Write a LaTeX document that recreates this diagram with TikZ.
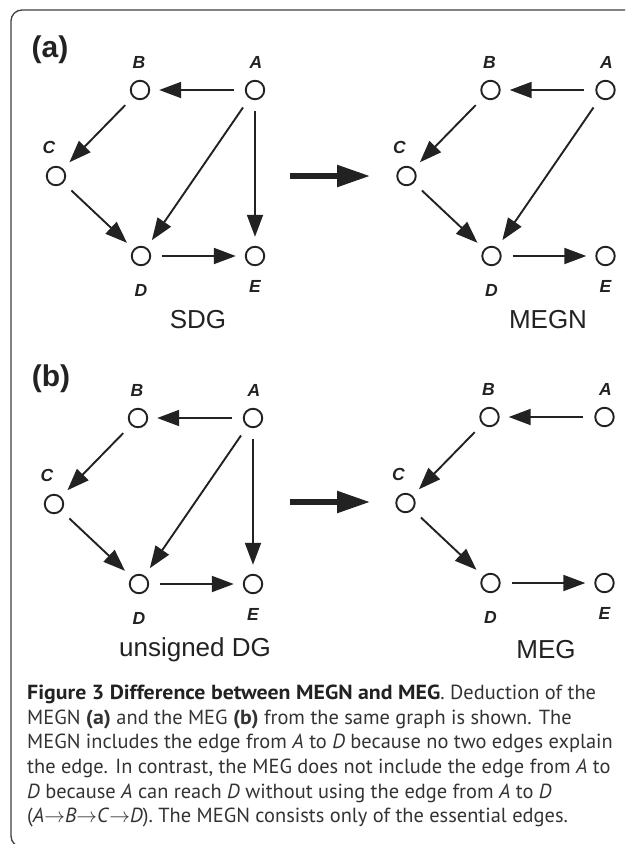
\documentclass[tikz,border=0pt]{standalone}
\usepackage{fontspec}
\setmainfont{PT Sans}[BoldFeatures={FakeStretch=1.07}]
\newfontfamily\arialf{Liberation Sans}
\usetikzlibrary{arrows.meta}
\definecolor{ink}{HTML}{222222}
\definecolor{framec}{HTML}{404040}
\definecolor{capc}{HTML}{333333}
\newcommand\mkgraph[1]{%
  \node[nd] (#1A) at (255,90) {};
  \node[nd] (#1B) at (140,90) {};
  \node[nd] (#1C) at (56,176) {};
  \node[nd] (#1D) at (141,256) {};
  \node[nd] (#1E) at (255,256) {};
  \node[lbl] (#1lA) at (256,62) {A};
  \node[lbl] (#1lB) at (139,62) {B};
  \node[lbl] (#1lC) at (49,147) {C};
  \node[lbl] (#1lD) at (141,290) {D};
  \node[lbl] (#1lE) at (255,286) {E};
  \draw[edge] (#1A) -- (#1B);
  \draw[edge] (#1B) -- (#1C);
  \draw[edge] (#1C) -- (#1D);
  \draw[edge] (#1D) -- (#1E);
}
\begin{document}
\begin{tikzpicture}[x=1pt,y=-1pt,
  nd/.style={circle,draw=ink,line width=1.9pt,minimum size=18.5pt,inner sep=0pt},
  lbl/.style={font=\arialf\bfseries\itshape\fontsize{17.5}{17.5}\selectfont,text=ink,inner sep=0pt},
  edge/.style={draw=ink,line width=1.9pt,-{Triangle[length=22pt,width=16pt]},shorten >=9pt,shorten <=11pt},
  bigarrow/.style={draw=ink,line width=5.5pt,-{Triangle[length=33pt,width=21pt]}},
  panel/.style={font=\arialf\bfseries\fontsize{30}{30}\selectfont,text=ink,inner sep=0pt},
  gname/.style={font=\arialf\fontsize{26}{26}\selectfont,text=ink,inner sep=0pt}]
\clip (0,0) rectangle (625,844);
\fill[white] (0,0) rectangle (625,844);
\draw[framec,line width=1.3pt,rounded corners=11pt] (11,10) rectangle (680,847);

% panel (a)
\node[panel] (pa) at (50,50) {(a)};
\begin{scope}
  \mkgraph{p}
  \draw[edge] (pA) -- (pD);
  \draw[edge] (pA) -- (pE);
\end{scope}
\begin{scope}[shift={(350.5,0)}]
  \mkgraph{q}
  \draw[edge] (qA) -- (qD);
\end{scope}
\node[gname] (sdg) at (198,320) {SDG};
\node[gname] (megn) at (548,320) {MEGN};
\coordinate (a1) at (290,176);
\coordinate (a2) at (370,176);
\draw[bigarrow] (a1) -- (a2);

% panel (b)
\node[panel] (pb) at (51,379) {(b)};
\begin{scope}[shift={(-2,328)}]
  \mkgraph{r}
  \draw[edge] (rA) -- (rD);
  \draw[edge] (rA) -- (rE);
\end{scope}
\begin{scope}[shift={(349.5,327)}]
  \mkgraph{s}
\end{scope}
\node[gname] (udg) at (195,650) {unsigned DG};
\node[gname] (meg) at (546,650) {MEG};
\coordinate (b1) at (290,502);
\coordinate (b2) at (370,502);
\draw[bigarrow] (b1) -- (b2);

% caption
\node[anchor=north west,align=left,inner sep=0pt,text=capc,
  font=\fontsize{20.4}{24.6}\selectfont] (cap) at (27,685) {%
\textbf{\color{ink}Figure 3 Difference between MEGN and MEG}. Deduction of the\\
MEGN \textbf{(a)} and the MEG \textbf{(b)} from the same graph is shown. The\\
MEGN includes the edge from \textit{A} to \textit{D} because no two edges explain\\
the edge. In contrast, the MEG does not include the edge from \textit{A} to\\
\textit{D} because \textit{A} can reach \textit{D} without using the edge from \textit{A} to \textit{D}\\
(\textit{A}$\rightarrow$\textit{B}$\rightarrow$\textit{C}$\rightarrow$\textit{D}). The MEGN consists only of the essential edges.};
\end{tikzpicture}
\end{document}
